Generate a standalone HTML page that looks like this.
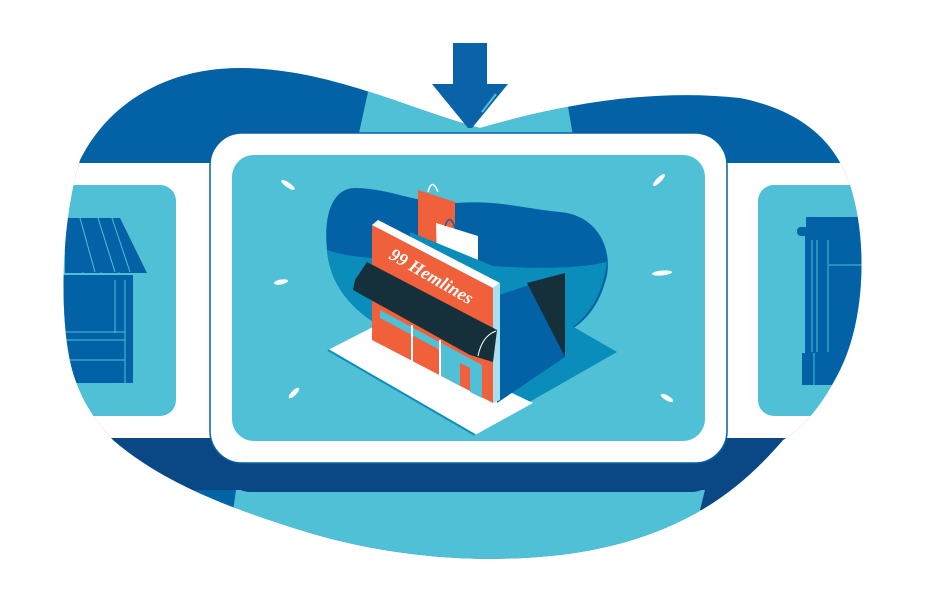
<!DOCTYPE html>
<html><head><meta charset="utf-8"><style>
html,body{margin:0;padding:0;background:#fff;}
svg{display:block}
</style></head><body>
<svg width="930" height="602" viewBox="0 0 930 602" xmlns="http://www.w3.org/2000/svg">
<defs>
<clipPath id="blob">
<path d="M113,440 C95,420 75,395 68,350 C60,300 62,220 80,160 C110,100 170,68 240,68 C330,68 410,110 480,128 C560,105 650,88 740,98 C800,110 835,140 850,185 C868,240 865,320 840,370 C820,410 800,430 783,440 C740,490 680,540 560,555 C470,565 380,555 300,530 C220,505 160,480 113,440 Z"/>
</clipPath>
</defs>
<g clip-path="url(#blob)">
<rect x="0" y="0" width="930" height="602" fill="#0262a5"/>
<polygon points="375,60 560,60 578,165 352,165" fill="#4fc0d6"/>
<rect x="0" y="163" width="930" height="278" fill="#fff"/>
<rect x="0" y="438" width="930" height="54" fill="#0a4785"/>
<rect x="0" y="490" width="930" height="112" fill="#4fc0d6"/>
<polygon points="0,490 236,490 226,560 0,560" fill="#0263a5"/>
<polygon points="705,490 930,490 930,520 700,510" fill="#0a4785"/>
<rect x="20" y="185" width="156" height="231" rx="16" fill="#4fc0d6"/>
<rect x="758" y="185" width="160" height="231" rx="16" fill="#4fc0d6"/>
<polygon points="65,218 120,218 147,273 65,273" fill="#0262a5"/>
<g stroke="#4fc0d6" stroke-width="1" fill="none">
<line x1="80" y1="218" x2="95" y2="272"/><line x1="98" y1="218" x2="115" y2="272"/><line x1="112" y1="218" x2="130" y2="272"/>
<path d="M65,273 q8,12 18,0 q8,12 18,0 q8,12 18,0 q8,12 18,0"/>
</g>
<rect x="60" y="275" width="73" height="108" fill="#0262a5"/>
<g stroke="#4fc0d6" stroke-width="1"><line x1="115" y1="280" x2="115" y2="333"/><line x1="125" y1="280" x2="125" y2="383"/><line x1="60" y1="332" x2="125" y2="332"/><line x1="60" y1="340" x2="125" y2="340"/><line x1="60" y1="360" x2="125" y2="360"/></g>
<rect x="806" y="217" width="60" height="10" fill="#0262a5"/>
<rect x="797" y="227" width="70" height="9" rx="4" fill="#0262a5"/>
<rect x="805" y="236" width="62" height="118" fill="#0262a5"/>
<rect x="802" y="353" width="65" height="32" fill="#0262a5"/>
<g stroke="#4fc0d6" stroke-width="1"><line x1="812" y1="240" x2="812" y2="352"/><line x1="817" y1="240" x2="817" y2="352"/><line x1="828" y1="240" x2="828" y2="352"/><line x1="829" y1="265" x2="867" y2="265"/><line x1="814" y1="353" x2="814" y2="385"/></g>
</g>
<rect x="226" y="420" width="490" height="72" rx="24" fill="#0a4785"/>
<rect x="210" y="133" width="517" height="330" rx="32" fill="#fff" stroke="#0262a5" stroke-width="1.5"/>
<rect x="232" y="155" width="473" height="286" rx="22" fill="#4fc0d6"/>
<g fill="#fff">
<ellipse cx="288" cy="185" rx="8" ry="2.5" transform="rotate(35 288 185)"/>
<ellipse cx="659" cy="180" rx="8" ry="2.5" transform="rotate(-45 659 180)"/>
<ellipse cx="281" cy="282" rx="7" ry="2.5" transform="rotate(-10 281 282)"/>
<ellipse cx="662" cy="273" rx="10" ry="2.5" transform="rotate(-5 662 273)"/>
<ellipse cx="294" cy="393" rx="7" ry="2.5" transform="rotate(-45 294 393)"/>
<ellipse cx="667" cy="398" rx="7" ry="2.5" transform="rotate(30 667 398)"/>
</g>
<rect x="453" y="43" width="34" height="44" fill="#0a63a8"/>
<polygon points="432,84 508,84 472,128 468,128" fill="#0a63a8"/>
<line x1="496" y1="94" x2="482" y2="112" stroke="#4fc0d6" stroke-width="2"/>
<path d="M327,250 C323,210 335,188 355,188 C390,188 420,205 455,203 C500,200 520,208 560,212 C595,215 612,245 607,275 C600,305 585,325 560,335 L400,335 C360,320 330,290 327,250 Z" fill="#0262a5"/>
<path d="M327,250 C360,262 420,258 480,265 C540,270 580,268 607,262 C602,300 585,322 560,335 L400,335 C360,320 330,290 327,250 Z" fill="#0a8dbb"/>
<polygon points="475,433 617,352 565,322 500,355" fill="#0a8dbb"/>
<polygon points="328,350 373,327 533,403 475,435" fill="#fff"/>
<line x1="328" y1="350" x2="475" y2="435" stroke="#0a8dbb" stroke-width="2"/>
<polygon points="418,190 455,202 455,252 418,245" fill="#f0603a"/>
<path d="M428,192 q4,-15 10,0" stroke="#fff" stroke-width="1.5" fill="none"/>
<polygon points="436,223 478,236 478,275 437,262" fill="#fff"/>
<path d="M445,226 q5,-14 10,2" stroke="#0a63a8" stroke-width="1.5" fill="none"/>
<polygon points="410,232 520,277 552,268 520,300 495,300 410,260" fill="#0a8dbb"/>
<polygon points="493,297 565,273 565,357 497,403" fill="#0262a5"/>
<polygon points="527,283 565,273 565,357" fill="#15303a"/>
<polygon points="372,225 493,288 493,403 372,340" fill="#f0603a"/>
<polygon points="372,225 378,220 500,283 493,288" fill="#fff"/>
<polygon points="493,288 500,283 500,400 493,403" fill="#a8e0ee"/>
<polygon points="380,310 482,365 482,398 470,392 470,368 460,363 460,386 440,375 440,350 380,318" fill="#4fc0d6"/>
<line x1="412" y1="325" x2="412" y2="365" stroke="#fff" stroke-width="2"/>
<line x1="440" y1="340" x2="440" y2="378" stroke="#fff" stroke-width="2"/>
<polygon points="367,262 497,330 493,362 470,355 353,290 355,280" fill="#15303a"/>
<path d="M478,356 q4,-20 18,-25" stroke="#fff" stroke-width="1" fill="none"/>
<text x="0" y="0" transform="translate(388,258) rotate(30)" font-family="Liberation Serif, serif" font-style="italic" font-weight="bold" font-size="18" fill="#fff">99 Hemlines</text>
</svg>
</body></html>
